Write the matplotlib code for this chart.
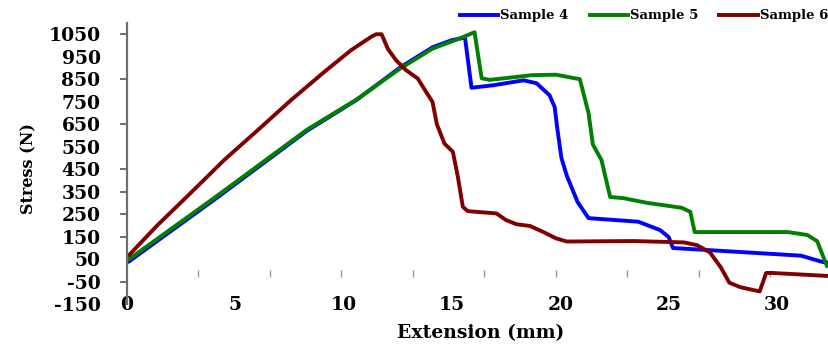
import numpy as np
import matplotlib
matplotlib.use("Agg")
import matplotlib.pyplot as plt

# Extension (mm) / stress (N) readings for each sample
s4_ext = [0.1, 4.0, 8.3, 10.6, 12.6, 14.1, 15.0, 15.6,
          15.9, 16.9, 18.3, 18.9, 19.5, 19.74, 19.85, 20.05, 20.3, 20.8,
          21.3, 23.6, 24.6, 25.0, 25.2, 26.8, 31.1, 31.5, 32.1, 32.3]
s4_stress = [40, 312, 620, 758, 902, 992, 1024, 1035,
             812, 823, 845, 832, 779, 726, 637, 500, 420, 303,
             232, 216, 179, 148, 99, 90, 65, 54, 37, 35]

s5_ext = [0.1, 4.0, 8.3, 10.6, 12.6, 14.1, 15.35, 16.04,
          16.37, 16.74, 18.7, 19.8, 20.9, 21.3, 21.5, 21.9, 22.3, 22.9,
          24.0, 25.6, 26.0, 26.2, 30.5, 31.4, 31.85, 32.3]
s5_stress = [50, 320, 625, 760, 897, 986, 1031, 1059,
             854, 847, 868, 870, 850, 700, 560, 490, 326, 321,
             300, 278, 260, 170, 170, 157, 130, 20]

s6_ext = [0.1, 1.4, 2.94, 4.48, 6.03, 7.57, 9.1, 10.34, 11.26, 11.5,
          11.75, 12.04, 12.42, 12.88, 13.42, 13.8, 14.1, 14.3, 14.65, 15.04,
          15.27, 15.5, 15.73, 17.05, 17.5, 17.97, 18.6, 19.2, 19.8, 20.3,
          23.4, 25.7, 26.3, 26.9, 27.4, 27.8, 28.3, 29.2, 29.5, 29.8, 32.3]
s6_stress = [68, 200, 344, 490, 623, 757, 882, 979, 1038, 1050,
             1050, 985, 934, 890, 853, 794, 749, 650, 564, 527,
             416, 282, 263, 253, 223, 205, 197, 171, 142, 128,
             130, 124, 112, 80, 14, -55, -75, -94, -12, -12, -25]

series = [("Sample 4", s4_ext, s4_stress, "#0000ff"),
          ("Sample 5", s5_ext, s5_stress, "#008000"),
          ("Sample 6", s6_ext, s6_stress, "#800000")]

y_ticks = [1050, 950, 850, 750, 650, 550, 450, 350, 250, 150, 50, -50, -150]
y_marked = {1050, 850, 650, 450, 350, 250, 150, -50}
x_ticks = [0, 5, 10, 15, 20, 25, 30]

plt.rcParams["font.family"] = ["DejaVu Serif"]
plt.rcParams["font.weight"] = "bold"

fig = plt.figure(figsize=(8.29, 3.48), dpi=100)
W, H = 829, 348
ax = fig.add_axes([127 / W, (H - 304) / H, (829 - 127) / W, (304 - 23) / H])

for name, xs, ys, col in series:
    ax.plot(xs, ys, color=col, lw=2.8, label=name, solid_joinstyle="round")

ax.set_xlim(0, 32.4)
ax.set_ylim(-150, 1100)

for side in ("top", "right", "bottom"):
    ax.spines[side].set_visible(False)
ax.spines["left"].set_color("#6e6e6e")
ax.spines["left"].set_linewidth(1.6)

ax.set_yticks(y_ticks)
ax.set_yticklabels([str(v) for v in y_ticks])
ax.tick_params(axis="y", length=5, width=1.4, color="#6e6e6e", pad=14,
               labelsize=13.5)
for val, tk in zip(y_ticks, ax.yaxis.get_major_ticks()):
    tk.tick1line.set_visible(val in y_marked)

ax.set_xticks(x_ticks)
ax.set_xticklabels([str(v) for v in x_ticks])
ax.tick_params(axis="x", length=0, pad=-6, labelsize=13.5)

# Small tick marks along the zero-stress line
zero_frac = (0 - (-150)) / (1100 - (-150))
sec = ax.secondary_xaxis(zero_frac)
sec.spines["bottom"].set_visible(False)
sec.set_xticks(np.arange(3.3, 30, 3.3))
sec.set_xticklabels([])
sec.tick_params(axis="x", length=5, width=1.0, color="#9a9a9a", direction="out")

ax.set_ylabel("Stress (N)", fontsize=11.5, fontweight="bold")
ax.yaxis.set_label_coords((29 - 127) / 702, (304 - 169) / 281)
ax.yaxis.label.set_va("center")
ax.set_xlabel("Extension (mm)", fontsize=13.5, fontweight="bold")
ax.xaxis.set_label_coords((481 - 127) / 702, (304 - 333) / 281)
ax.xaxis.label.set_va("center")

fig.legend(loc="center right", bbox_to_anchor=(828 / W, 1 - 16 / H),
           ncol=3, frameon=False, handlelength=2.9,
           handletextpad=0.15, columnspacing=1.6, borderpad=0,
           borderaxespad=0, prop={"size": 9.5, "weight": "bold"})

fig.savefig("out.png", dpi=100, facecolor="white")
